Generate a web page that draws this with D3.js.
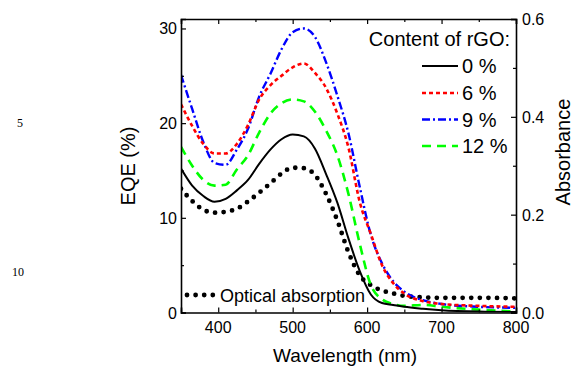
<!DOCTYPE html>
<html>
<head>
<meta charset="utf-8">
<script src="https://cdn.jsdelivr.net/npm/d3@7"></script>
<style>
  body { margin: 0; background: #fff; }
  svg text { font-family: "Liberation Sans", Arial, sans-serif; fill: #000; }
</style>
</head>
<body>
<div id="chart"></div>
<script>
// wavelength grid (nm) shared by all series
const wavelength = [350, 365, 380, 395, 410, 425, 440, 455, 470, 485, 500, 515, 530,
  545, 560, 575, 590, 605, 620, 635, 650, 675, 700, 750, 800];

// EQE (%) for each rGO content
const eqe0 = [15.2, 13.4, 12.3, 11.7, 12.0, 12.9, 14.0, 15.7, 17.2, 18.3, 18.8, 18.6, 17.3,
  14.6, 11.6, 7.8, 4.4, 1.9, 1.0, 0.8, 0.6, 0.4, 0.25, 0.1, 0.05];
const eqe6 = [22.0, 19.7, 17.8, 16.8, 16.8, 17.8, 19.8, 22.5, 24.0, 25.0, 25.9, 26.3, 25.3,
  23.7, 21.0, 17.4, 11.7, 8.3, 5.0, 3.1, 2.0, 1.2, 0.9, 0.7, 0.6];
const eqe9 = [25.1, 21.5, 18.0, 15.8, 15.6, 17.2, 19.4, 22.8, 25.2, 27.8, 29.6, 30.0, 29.1,
  26.4, 22.9, 18.9, 13.3, 8.2, 5.2, 3.3, 2.2, 1.3, 0.9, 0.6, 0.5];
const eqe12 = [17.5, 15.5, 14.0, 13.4, 13.5, 15.1, 16.6, 19.0, 21.0, 22.1, 22.5, 22.3, 21.2,
  19.2, 16.6, 12.5, 7.3, 2.9, 1.4, 0.9, 0.7, 0.8, 0.6, 0.3, 0.1];

// optical absorbance (right axis)
const absorbance = [0.253, 0.228, 0.210, 0.204, 0.206, 0.212, 0.227, 0.245, 0.264, 0.284, 0.296,
  0.295, 0.281, 0.242, 0.188, 0.123, 0.076, 0.056, 0.045, 0.039, 0.034, 0.031, 0.030, 0.030, 0.029];

const seriesNames = ['0 %', '6 %', '9 %', '12 %'];
const xTicks = [400, 500, 600, 700, 800];
const yLeftTicks = [0, 10, 20, 30];
const yRightTicks = [0, 0.2, 0.4, 0.6];

const width = 574, height = 371;
const margin = { top: 19, right: 58, bottom: 58, left: 181 };

const svg = d3.select('#chart').append('svg')
  .attr('width', width)
  .attr('height', height);

const x = d3.scaleLinear().domain([350, 800]).range([margin.left, width - margin.right]);
const yL = d3.scaleLinear().domain([0, 31]).range([height - margin.bottom - 0.5, margin.top]);
const yR = d3.scaleLinear().domain([0, 0.6]).range([height - margin.bottom - 0.5, margin.top]);

const styles = [
  { color: '#000000', dash: null, w: 2 },
  { color: '#ff0000', dash: '4,3', w: 2.6 },
  { color: '#0000ff', dash: '8,3,2,3', w: 2.4 },
  { color: '#00ff00', dash: '9,6', w: 2.6 }
];
const eqeSeries = [eqe0, eqe6, eqe9, eqe12];

svg.append('clipPath').attr('id', 'plot-clip')
  .append('rect')
  .attr('x', x(350)).attr('y', yL(31))
  .attr('width', x(800) - x(350)).attr('height', yL(0) - yL(31));

const plot = svg.append('g').attr('clip-path', 'url(#plot-clip)');

// absorption, drawn first (round dots)
const lineR = d3.line()
  .x((d, i) => x(wavelength[i]))
  .y(d => yR(d))
  .curve(d3.curveMonotoneX);

plot.append('path')
  .datum(absorbance)
  .attr('d', lineR)
  .attr('fill', 'none')
  .attr('stroke', '#000')
  .attr('stroke-width', 4.8)
  .attr('stroke-linecap', 'round')
  .attr('stroke-dasharray', '0,8.6');

const lineL = d3.line()
  .x((d, i) => x(wavelength[i]))
  .y(d => yL(d))
  .curve(d3.curveMonotoneX);

// draw in order 12, 9, 6, 0 so black sits on top
[3, 2, 1, 0].forEach(k => {
  plot.append('path')
    .datum(eqeSeries[k])
    .attr('d', lineL)
    .attr('fill', 'none')
    .attr('stroke', styles[k].color)
    .attr('stroke-width', styles[k].w)
    .attr('stroke-dasharray', styles[k].dash);
});

// axes: ticks inward on all four sides
const tickFont = '16px';

const bottomAxis = svg.append('g')
  .attr('transform', 'translate(0,' + yL(0) + ')')
  .call(d3.axisBottom(x).tickValues(d3.range(350, 801, 50)).tickSize(-5).tickFormat(''));
bottomAxis.selectAll('.tick line').attr('y2', d => (d % 100 === 0 ? -5 : -3));

const topAxis = svg.append('g')
  .attr('transform', 'translate(0,' + yL(31) + ')')
  .call(d3.axisTop(x).tickValues(d3.range(350, 801, 50)).tickSize(-5).tickFormat(''));
topAxis.selectAll('.tick line').attr('y2', d => (d % 100 === 0 ? 5 : 3));

const leftAxis = svg.append('g')
  .attr('transform', 'translate(' + x(350) + ',0)')
  .call(d3.axisLeft(yL).tickValues(d3.range(0, 31, 5)).tickSize(-5).tickFormat(''));
leftAxis.selectAll('.tick line').attr('x2', d => (d % 10 === 0 ? 5 : 3));

const rightAxis = svg.append('g')
  .attr('transform', 'translate(' + x(800) + ',0)')
  .call(d3.axisRight(yR).tickValues([0, 0.1, 0.2, 0.3, 0.4, 0.5, 0.6]).tickSize(-5).tickFormat(''));
rightAxis.selectAll('.tick line').attr('x2', d => (Math.round(d * 10) % 2 === 0 ? -5 : -3));

[bottomAxis, topAxis, leftAxis, rightAxis].forEach(a => {
  a.select('.domain').attr('stroke-width', 1.6).attr('stroke', '#000');
  a.selectAll('.tick line').attr('stroke-width', 1.2).attr('stroke', '#000');
});

// tick labels
svg.append('g').selectAll('text')
  .data(xTicks)
  .enter().append('text')
  .attr('x', d => x(d))
  .attr('y', yL(0) + 20)
  .attr('text-anchor', 'middle')
  .attr('font-size', tickFont)
  .text(d => d);

svg.append('g').selectAll('text')
  .data(yLeftTicks)
  .enter().append('text')
  .attr('x', x(350) - 4)
  .attr('y', d => yL(d) + 6)
  .attr('text-anchor', 'end')
  .attr('font-size', tickFont)
  .text(d => d);

svg.append('g').selectAll('text')
  .data(yRightTicks)
  .enter().append('text')
  .attr('x', x(800) + 6)
  .attr('y', d => yR(d) + 6)
  .attr('text-anchor', 'start')
  .attr('font-size', tickFont)
  .text(d => d.toFixed(1));

// axis titles
svg.append('text')
  .attr('x', 345)
  .attr('y', 362)
  .attr('text-anchor', 'middle')
  .attr('font-size', '19px')
  .text('Wavelength (nm)');

svg.append('text')
  .attr('transform', 'translate(135,166) rotate(-90)')
  .attr('text-anchor', 'middle')
  .attr('font-size', '20px')
  .text('EQE (%)');

svg.append('text')
  .attr('transform', 'translate(570,152) rotate(-90)')
  .attr('text-anchor', 'middle')
  .attr('font-size', '20px')
  .text('Absorbance');

// legend
svg.append('text')
  .attr('x', 510)
  .attr('y', 46)
  .attr('text-anchor', 'end')
  .attr('font-size', '20px')
  .text('Content of rGO:');

const legendRows = [66, 93, 119.5, 146];
seriesNames.forEach((name, k) => {
  svg.append('line')
    .attr('x1', 422).attr('x2', 458)
    .attr('y1', legendRows[k]).attr('y2', legendRows[k])
    .attr('stroke', styles[k].color)
    .attr('stroke-width', styles[k].w)
    .attr('stroke-dasharray', styles[k].dash);
  svg.append('text')
    .attr('x', 462)
    .attr('y', legendRows[k] + 7)
    .attr('font-size', '20px')
    .text(name);
});

svg.append('line')
  .attr('x1', 187).attr('x2', 214)
  .attr('y1', 295).attr('y2', 295)
  .attr('stroke', '#000')
  .attr('stroke-width', 4.8)
  .attr('stroke-linecap', 'round')
  .attr('stroke-dasharray', '0,8.6');

svg.append('text')
  .attr('x', 220)
  .attr('y', 302)
  .attr('font-size', '18px')
  .text('Optical absorption');

// manuscript line numbers in the margin
svg.append('text')
  .attr('x', 20).attr('y', 127)
  .attr('text-anchor', 'middle')
  .attr('font-size', '12px')
  .style('font-family', '"Liberation Serif", serif')
  .text('5');

svg.append('text')
  .attr('x', 18).attr('y', 276)
  .attr('text-anchor', 'middle')
  .attr('font-size', '12px')
  .style('font-family', '"Liberation Serif", serif')
  .text('10');
</script>
</body>
</html>
